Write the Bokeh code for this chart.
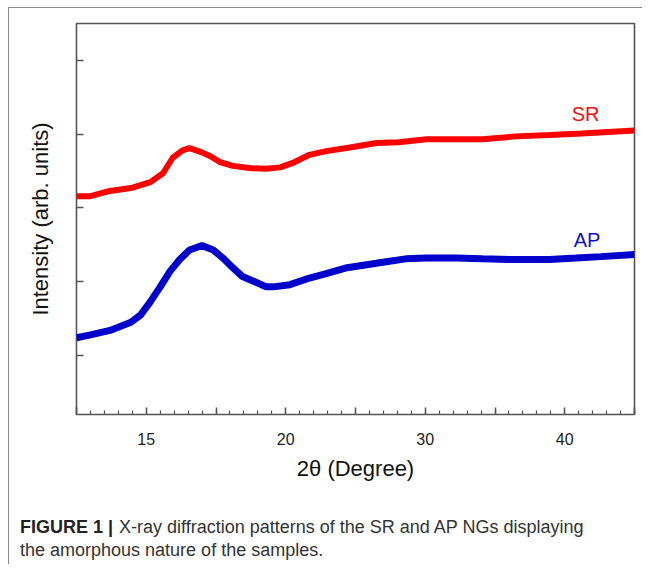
from bokeh.plotting import figure
from bokeh.models import FixedTicker, Range1d
from bokeh.layouts import column
from bokeh.core.properties import value
from bokeh.embed import file_html
from bokeh.resources import INLINE

# ---- data ----
sr_x = [10.0, 11.0, 12.4, 13.9, 15.3, 16.2, 16.9, 17.6, 18.1, 18.9, 19.6, 20.3, 21.2, 22.4, 23.6,
        24.6, 25.5, 26.7, 27.9, 29.6, 31.5, 33.1, 35.1, 37.2, 39.1, 41.5, 43.9, 46.2, 48.1, 50.0]
sr_y = [3.16, 3.16, 3.23, 3.27, 3.35, 3.47, 3.68, 3.78, 3.81, 3.76, 3.70, 3.62, 3.57, 3.54, 3.53,
        3.55, 3.61, 3.72, 3.77, 3.82, 3.88, 3.89, 3.93, 3.93, 3.93, 3.97, 3.99, 4.01, 4.03, 4.05]

ap_x = [10.0, 11.0, 12.4, 13.9, 14.6, 15.3, 16.0, 16.7, 17.4, 18.1, 19.0, 19.8, 20.5, 21.2, 21.9,
        22.9, 23.6, 24.1, 25.3, 26.7, 27.9, 29.4, 30.8, 32.2, 33.6, 35.1, 37.2, 39.1, 41.5, 43.9,
        45.8, 47.6, 50.0]
ap_y = [1.24, 1.28, 1.34, 1.45, 1.55, 1.73, 1.93, 2.14, 2.30, 2.43, 2.49, 2.43, 2.32, 2.19, 2.07,
        1.99, 1.93, 1.93, 1.96, 2.05, 2.11, 2.19, 2.23, 2.27, 2.31, 2.32, 2.32, 2.31, 2.30, 2.30,
        2.32, 2.34, 2.37]

series_names = ["SR", "AP"]
label_x = [46.5, 46.6]
label_y = [4.27, 2.57]

x_tick_positions = [10, 15, 20, 25, 30, 35, 40, 45, 50]
x_tick_labels = ["", "15", "", "20", "", "30", "", "40", ""]
x_minor_positions = list(range(10, 51))
y_tick_positions = [1, 2, 3, 4, 5]

caption_bold = "FIGURE 1 |"
caption_line1 = "X-ray diffraction patterns of the SR and AP NGs displaying"
caption_line2 = "the amorphous nature of the samples."

FONT = "Liberation Sans"
FRAME = "#555555"
W = 633

p = figure(width=W, height=482, output_backend="svg", toolbar_location=None,
           x_range=Range1d(10, 50), y_range=Range1d(0.2, 5.5),
           min_border_left=67, min_border_right=8, min_border_top=15, min_border_bottom=76)
p.grid.visible = False
p.outline_line_color = FRAME
p.outline_line_width = 1.6
p.background_fill_color = "white"
p.border_fill_color = "white"

p.line(sr_x, sr_y, line_color="#ff0000", line_width=6)
p.line(ap_x, ap_y, line_color="#0000cc", line_width=7)

p.text(x=label_x[:1], y=label_y[:1], text=series_names[:1], text_color="#ee1111",
       text_font=value(FONT), text_font_size="20px", text_align="center", text_baseline="middle")
p.text(x=label_x[1:], y=label_y[1:], text=series_names[1:], text_color="#1111cc",
       text_font=value(FONT), text_font_size="20px", text_align="center", text_baseline="middle")

xa = p.xaxis[0]
xa.ticker = FixedTicker(ticks=x_tick_positions, minor_ticks=x_minor_positions)
xa.major_label_overrides = {t: l for t, l in zip(x_tick_positions, x_tick_labels)}
xa.axis_line_color = None
xa.major_tick_in = 7
xa.major_tick_out = 0
xa.minor_tick_in = 4
xa.minor_tick_out = 0
xa.major_tick_line_color = FRAME
xa.minor_tick_line_color = FRAME
xa.major_tick_line_width = 1.5
xa.minor_tick_line_width = 1.2
xa.major_label_text_font = FONT
xa.major_label_text_font_size = "16px"
xa.major_label_text_color = "#222222"
xa.major_label_standoff = 18
xa.axis_label = "2θ (Degree)"
xa.axis_label_text_font = FONT
xa.axis_label_text_font_style = "normal"
xa.axis_label_text_font_size = "22px"
xa.axis_label_text_color = "#111111"
xa.axis_label_standoff = 8

ya = p.yaxis[0]
ya.ticker = FixedTicker(ticks=y_tick_positions, minor_ticks=[])
ya.major_label_overrides = {t: "" for t in y_tick_positions}
ya.major_label_text_font_size = "0px"
ya.axis_line_color = None
ya.major_tick_in = 7
ya.major_tick_out = 0
ya.major_tick_line_color = FRAME
ya.major_tick_line_width = 1.5
ya.axis_label = "Intensity (arb. units)"
ya.axis_label_text_font = FONT
ya.axis_label_text_font_style = "normal"
ya.axis_label_text_font_size = "22px"
ya.axis_label_text_color = "#111111"
ya.axis_label_standoff = 24

# caption panel (pixel-like coordinates)
CAP_H = 74
c = figure(width=W, height=CAP_H, output_backend="svg", toolbar_location=None,
           x_range=Range1d(0, W), y_range=Range1d(0, CAP_H),
           x_axis_location=None, y_axis_location=None, min_border=0,
           min_border_left=0, min_border_right=0, min_border_top=0, min_border_bottom=0)
try:
    c.frame_align = False
except AttributeError:
    pass
c.grid.visible = False
c.outline_line_color = None
c.border_fill_color = "white"
c.background_fill_color = "white"
c.text(x=[10.5], y=[37.5], text=[caption_bold], text_font=value(FONT), text_font_style="bold",
       text_font_size="18px", text_color="#222222", text_baseline="middle")
c.text(x=[109.5], y=[37.5], text=[caption_line1], text_font=value(FONT),
       text_font_size="18px", text_color="#333333", text_baseline="middle")
c.text(x=[10.5], y=[14.5], text=[caption_line2], text_font=value(FONT),
       text_font_size="18px", text_color="#333333", text_baseline="middle")

layout = column(p, c, spacing=0, margin=(7, 0, 0, 8),
                styles={"border-top": "1.5px solid #888888", "border-left": "1.5px solid #888888"})

open("out.html", "w").write(file_html(layout, INLINE))
